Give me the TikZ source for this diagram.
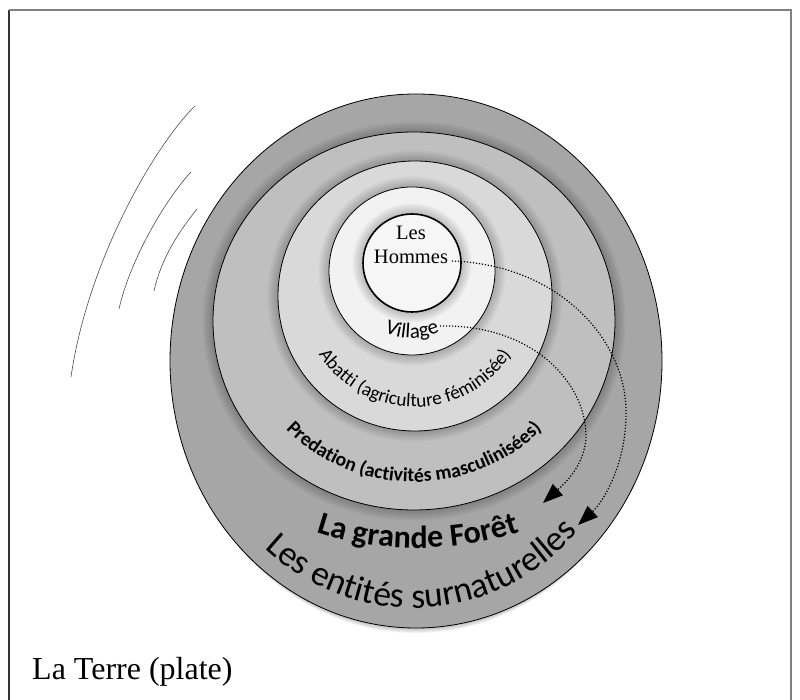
\documentclass[tikz,border=0pt]{standalone}
\usepackage{fontspec}
\setmainfont{Liberation Serif}
\newfontfamily\calib{Carlito}
\usetikzlibrary{decorations.text,arrows.meta}

\definecolor{ringA}{HTML}{A6A6A6}
\definecolor{ringB}{HTML}{BFBFBF}
\definecolor{ringC}{HTML}{D9D9D9}
\definecolor{ringD}{HTML}{F2F2F2}

\begin{document}
\begin{tikzpicture}[x=1pt,y=1pt,
		ring/.style={draw=black, line width=0.8pt},
		flow/.style={line width=1.2pt, dash pattern=on 1.2pt off 1.8pt, -{Triangle[length=20pt,width=15pt]}},
		swoosh/.style={draw=black!70, line width=0.6pt},
		curved/.style={decorate, decoration={text along path, text align=center, text={#1}}}]
		\useasboundingbox (0,0) rectangle (800,700);
		
		% cadre
		\draw[black!80, line width=1.2pt] (9,0) -- (9,690);
		\draw[black!50, line width=1.5pt] (9,690) -- (791,690) -- (791,0);
		
		% traits du mouvement
		\draw[swoosh] (195,594) .. controls (155,555) and (88,440) .. (71,323);
		\draw[swoosh] (191,528) .. controls (165,500) and (130,440) .. (119,391);
		\draw[swoosh] (197,491) .. controls (182,472) and (162,445) .. (154,409);
		
		% ombre sous la grande ellipse
		\foreach \g in {1,...,5}{
			\fill[black, opacity=0.05] (416,339-\g) ellipse [x radius=246-\g, y radius=267];
		}
		\filldraw[ring, fill=ringA] (416,339) ellipse [x radius=246, y radius=267];
		
		% anneaux
		\foreach \cx/\cy/\rx/\ry/\col in {414/379/201/189/ringB, 415/404/137/135/ringC, 412/429/83/84/ringD}{
			\foreach \g in {1,...,7}{
				\fill[black, opacity=0.03] (\cx,\cy) ellipse [x radius=\rx+1.5*\g, y radius=\ry+1.5*\g];
			}
			\filldraw[ring, fill=\col] (\cx,\cy) ellipse [x radius=\rx, y radius=\ry];
		}
		
		\foreach \g in {1,...,7}{
			\fill[black, opacity=0.03] (412,437) circle [radius=49+1.5*\g];
		}
		\filldraw[ring, line width=1.6pt, fill=ringD!70!white] (412,437) circle [radius=49];
		\node[font=\fontsize{20.5}{23.5}\selectfont, align=center, inner sep=0pt] (hommes) at (411,455) {Les\\Hommes};
		
		% textes courbes
		\path[curved={|\calib\fontsize{21}{24}\selectfont|Village}] (345,429) arc[start angle=180, end angle=360, radius=67];
		\path[curved={|\calib\fontsize{19.2}{22}\selectfont|Abatti (agriculture féminisée)}] (302,404) arc[start angle=180, end angle=360, x radius=113, y radius=111];
		\path[curved={|\calib\bfseries\fontsize{19.8}{22}\selectfont|Predation (activités masculinisées)}] (241,379) arc[start angle=180, end angle=360, x radius=173, y radius=161];
		\path[curved={|\calib\bfseries\fontsize{32}{36}\selectfont|La grande Forêt}] (158,352) arc[start angle=180, end angle=360, x radius=260, y radius=200];
		\path[curved={|\calib\fontsize{35.5}{40}\selectfont|Les entités surnaturelles}, rotate around={3:(412,339)}] (184,339) arc[start angle=180, end angle=360, x radius=228, y radius=247];
		
		% fleches
		\coordinate (hommes-end) at (452,439);
		\coordinate (hommes-tip) at (578,175);
		\coordinate (village-end) at (440,374);
		\coordinate (village-tip) at (543,197);
		\draw[flow] (hommes-end) .. controls (560,435) and (625,360) .. (626,290) .. controls (627,235) and (602,197) .. (hommes-tip);
		\draw[flow] (village-end) .. controls (530,376) and (585,320) .. (586,265) .. controls (586,235) and (563,215) .. (village-tip);
		
		\node[font=\fontsize{32}{36}\selectfont, anchor=base west, inner sep=0pt] (terre) at (32,20) {La Terre (plate)};
	\end{tikzpicture}
\end{document}
